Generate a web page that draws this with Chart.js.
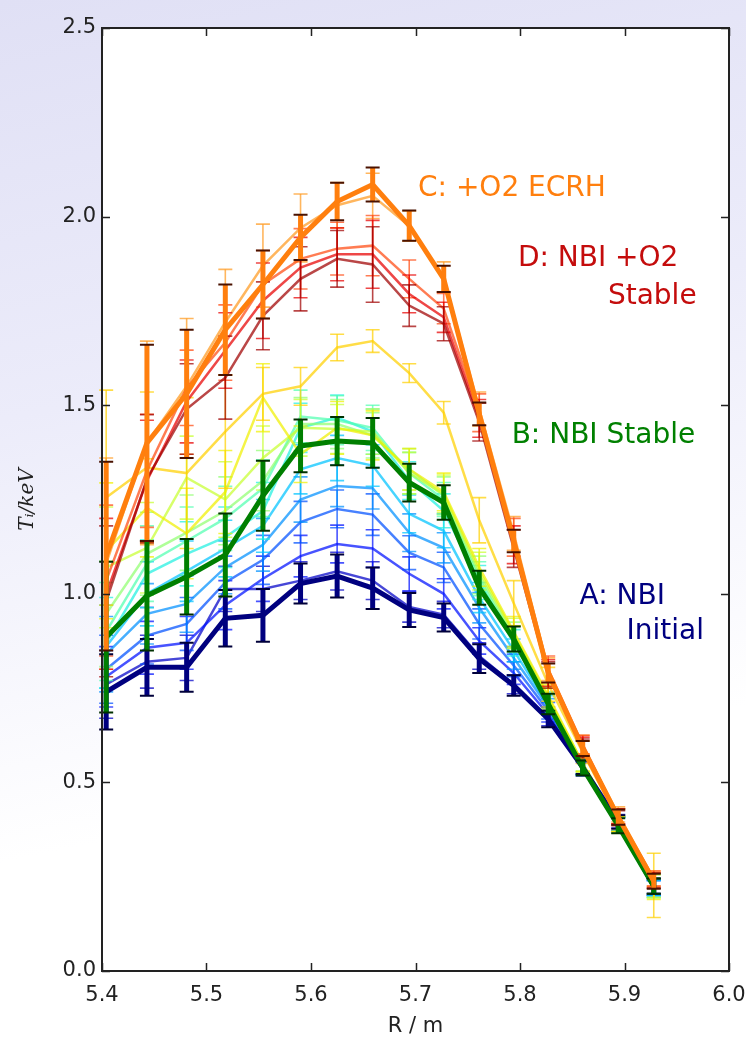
<!DOCTYPE html>
<html><head><meta charset="utf-8">
<script src="https://cdn.jsdelivr.net/npm/chart.js@4.4.0/dist/chart.umd.min.js"></script>
<style>
html,body{margin:0;padding:0;}
body{width:746px;height:1041px;overflow:hidden;background:linear-gradient(168deg,#e0e0f5 0%,#ececfa 35%,#ffffff 72%);}
canvas{display:block;}
</style></head><body>
<canvas id="c" width="746" height="1041"></canvas>
<script>
// ---- data ----
const R = [5.404, 5.443, 5.481, 5.518, 5.554, 5.590, 5.625, 5.659, 5.694, 5.727, 5.761, 5.794, 5.827, 5.860, 5.894, 5.928];
const xTicks = [5.4, 5.5, 5.6, 5.7, 5.8, 5.9, 6.0];
const yTicks = [0.0, 0.5, 1.0, 1.5, 2.0, 2.5];

// thick profiles
const tiA = [0.74, 0.805, 0.805, 0.935, 0.943, 1.027, 1.047, 1.015, 0.957, 0.937, 0.828, 0.757, 0.668, 0.540, 0.395, 0.225];
const errA = [0.10, 0.075, 0.065, 0.075, 0.07, 0.053, 0.057, 0.055, 0.045, 0.037, 0.038, 0.027, 0.022, 0.018, 0.018, 0.02];
const tiB = [0.885, 0.995, 1.045, 1.103, 1.260, 1.392, 1.405, 1.400, 1.295, 1.242, 1.016, 0.880, 0.708, 0.538, 0.385, 0.225];
const errB = [0.20, 0.145, 0.10, 0.11, 0.093, 0.07, 0.064, 0.066, 0.05, 0.046, 0.045, 0.033, 0.027, 0.02, 0.02, 0.02];
const tiC = [1.10, 1.40, 1.53, 1.70, 1.82, 1.945, 2.04, 2.085, 1.976, 1.835, 1.477, 1.14, 0.79, 0.59, 0.408, 0.238];
const errC = [0.25, 0.26, 0.17, 0.12, 0.09, 0.06, 0.05, 0.045, 0.04, 0.035, 0.03, 0.03, 0.025, 0.02, 0.02, 0.02];

// thin profiles (cold -> hot)
const ti1 = [0.76, 0.82, 0.83, 1.013, 1.013, 1.035, 1.06, 1.035, 0.965, 0.945, 0.835, 0.76, 0.67, 0.54, 0.397, 0.225];
const err1 = [0.09, 0.07, 0.06, 0.06, 0.06, 0.05, 0.05, 0.05, 0.04, 0.035, 0.035, 0.025, 0.02, 0.018, 0.018, 0.02];
const ti2 = [0.78, 0.857, 0.87, 0.97, 1.04, 1.10, 1.132, 1.12, 1.053, 1.0, 0.875, 0.79, 0.68, 0.535, 0.39, 0.22];
const err2 = [0.08, 0.07, 0.07, 0.065, 0.06, 0.055, 0.05, 0.05, 0.045, 0.04, 0.035, 0.03, 0.02, 0.018, 0.018, 0.02];
const ti3 = [0.80, 0.889, 0.92, 1.03, 1.09, 1.19, 1.225, 1.21, 1.109, 1.07, 0.92, 0.81, 0.69, 0.54, 0.39, 0.22];
const err3 = [0.09, 0.075, 0.07, 0.07, 0.065, 0.055, 0.05, 0.055, 0.045, 0.04, 0.04, 0.03, 0.022, 0.018, 0.018, 0.02];
const ti4 = [0.84, 0.947, 0.973, 1.07, 1.13, 1.25, 1.286, 1.28, 1.162, 1.122, 0.963, 0.83, 0.70, 0.54, 0.39, 0.22];
const err4 = [0.10, 0.08, 0.075, 0.07, 0.07, 0.06, 0.055, 0.055, 0.05, 0.04, 0.04, 0.03, 0.022, 0.02, 0.018, 0.02];
const ti5 = [0.86, 1.0, 1.06, 1.12, 1.18, 1.33, 1.36, 1.34, 1.212, 1.167, 0.99, 0.85, 0.705, 0.54, 0.39, 0.22];
const err5 = [0.11, 0.085, 0.08, 0.075, 0.07, 0.065, 0.06, 0.055, 0.05, 0.045, 0.04, 0.03, 0.025, 0.02, 0.02, 0.02];
const ti6 = [0.87, 1.053, 1.106, 1.15, 1.22, 1.44, 1.467, 1.43, 1.30, 1.22, 1.03, 0.87, 0.71, 0.54, 0.385, 0.22];
const err6 = [0.12, 0.09, 0.085, 0.08, 0.075, 0.065, 0.06, 0.06, 0.05, 0.045, 0.045, 0.035, 0.025, 0.02, 0.02, 0.025];
const ti7 = [0.90, 1.08, 1.14, 1.20, 1.28, 1.47, 1.46, 1.44, 1.32, 1.25, 1.04, 0.88, 0.715, 0.545, 0.39, 0.22];
const err7 = [0.13, 0.10, 0.09, 0.085, 0.075, 0.07, 0.065, 0.06, 0.055, 0.045, 0.045, 0.035, 0.025, 0.02, 0.02, 0.025];
const ti8 = [0.947, 1.106, 1.162, 1.22, 1.30, 1.45, 1.45, 1.42, 1.33, 1.26, 1.05, 0.89, 0.72, 0.55, 0.39, 0.225];
const err8 = [0.14, 0.11, 0.10, 0.09, 0.08, 0.07, 0.065, 0.06, 0.055, 0.05, 0.05, 0.035, 0.03, 0.02, 0.02, 0.03];
const ti9 = [1.07, 1.122, 1.308, 1.25, 1.36, 1.44, 1.437, 1.43, 1.32, 1.265, 1.06, 0.895, 0.725, 0.55, 0.39, 0.225];
const err9 = [0.16, 0.12, 0.11, 0.10, 0.085, 0.075, 0.065, 0.06, 0.055, 0.05, 0.05, 0.04, 0.03, 0.02, 0.02, 0.03];
const ti10 = [1.114, 1.228, 1.16, 1.27, 1.52, 1.37, 1.44, 1.42, 1.33, 1.27, 1.07, 0.90, 0.73, 0.55, 0.39, 0.225];
const err10 = [0.18, 0.13, 0.12, 0.11, 0.09, 0.075, 0.07, 0.065, 0.055, 0.05, 0.05, 0.04, 0.03, 0.022, 0.02, 0.035];
const ti11 = [1.255, 1.335, 1.32, 1.43, 1.53, 1.55, 1.653, 1.67, 1.585, 1.48, 1.195, 0.975, 0.76, 0.58, 0.40, 0.227];
const err11 = [0.285, 0.20, 0.20, 0.15, 0.07, 0.05, 0.035, 0.03, 0.025, 0.03, 0.06, 0.06, 0.045, 0.03, 0.03, 0.085];
const ti12 = [1.08, 1.40, 1.55, 1.72, 1.87, 1.97, 2.03, 2.055, 1.975, 1.84, 1.49, 1.16, 0.80, 0.60, 0.415, 0.245];
const err12 = [0.28, 0.27, 0.18, 0.14, 0.11, 0.09, 0.06, 0.06, 0.04, 0.04, 0.045, 0.045, 0.03, 0.025, 0.02, 0.02];
const ti13 = [1.035, 1.326, 1.546, 1.666, 1.82, 1.888, 1.915, 1.923, 1.835, 1.756, 1.48, 1.15, 0.80, 0.60, 0.41, 0.245];
const err13 = [0.20, 0.15, 0.10, 0.10, 0.09, 0.08, 0.07, 0.08, 0.05, 0.04, 0.05, 0.05, 0.035, 0.025, 0.02, 0.02];
const ti14 = [1.0, 1.30, 1.51, 1.645, 1.777, 1.865, 1.90, 1.90, 1.795, 1.733, 1.465, 1.13, 0.79, 0.595, 0.41, 0.24];
const err14 = [0.20, 0.16, 0.11, 0.10, 0.10, 0.08, 0.07, 0.09, 0.05, 0.04, 0.05, 0.05, 0.035, 0.025, 0.02, 0.02];
const ti15 = [0.98, 1.305, 1.49, 1.573, 1.737, 1.835, 1.888, 1.873, 1.764, 1.716, 1.455, 1.12, 0.785, 0.59, 0.405, 0.24];
const err15 = [0.20, 0.17, 0.12, 0.11, 0.09, 0.085, 0.075, 0.10, 0.055, 0.045, 0.05, 0.05, 0.035, 0.025, 0.02, 0.02];

const labelLines = ["C: +O2 ECRH", "D: NBI +O2", "Stable", "B: NBI Stable", "A: NBI", "Initial"];

// ---- build datasets ----
function rgba(hex, a){const n=parseInt(hex.slice(1),16);return `rgba(${n>>16&255},${n>>8&255},${n&255},${a})`;}
const thin = [
  [ti1, err1, '#0000c8'], [ti2, err2, '#0010ff'], [ti3, err3, '#0050ff'], [ti4, err4, '#0090ff'],
  [ti5, err5, '#00c4ff'], [ti6, err6, '#20f0e0'], [ti7, err7, '#50ffb0'], [ti8, err8, '#90ff70'],
  [ti9, err9, '#c8ff30'], [ti10, err10, '#f0f000'], [ti11, err11, '#ffd000'], [ti12, err12, '#ff9a20'],
  [ti13, err13, '#ff4a10'], [ti14, err14, '#e80000'], [ti15, err15, '#a00000']
];
const thick = [
  [tiA, errA, '#00007f', '#00003a'], [tiB, errB, '#007f00', '#003000'], [tiC, errC, '#ff7f0e', '#4a1200']
];
const datasets = [];
thin.forEach((s, k) => {
  datasets.push({
    data: R.map((x, i) => ({x, y: s[0][i]})), err: s[1],
    borderColor: rgba(s[2], 0.72), capColor: rgba(s[2], 0.72),
    borderWidth: 2.5, barWidth: 1.6, capWidth: 1.6, capHalf: 7,
    pointRadius: 0, tension: 0, order: 100 - k
  });
});
thick.forEach((s, k) => {
  datasets.push({
    data: R.map((x, i) => ({x, y: s[0][i]})), err: s[1],
    borderColor: s[2], capColor: s[3],
    borderWidth: 5, barWidth: 5, capWidth: 2, capHalf: 7,
    pointRadius: 0, tension: 0, order: 10 - k
  });
});

const errorBars = {
  id: 'errorBars',
  afterDatasetDraw(chart, args) {
    const ds = chart.data.datasets[args.index];
    if (!ds.err) return;
    const xs = chart.scales.x, ys = chart.scales.y, ctx = chart.ctx;
    ctx.save();
    ctx.lineCap = 'butt';
    ds.data.forEach((p, i) => {
      const e = ds.err[i];
      const px = xs.getPixelForValue(p.x);
      const yt = ys.getPixelForValue(p.y + e), yb = ys.getPixelForValue(p.y - e);
      ctx.strokeStyle = ds.borderColor; ctx.lineWidth = ds.barWidth;
      ctx.beginPath(); ctx.moveTo(px, yt); ctx.lineTo(px, yb); ctx.stroke();
      ctx.strokeStyle = ds.capColor; ctx.lineWidth = ds.capWidth;
      ctx.beginPath();
      ctx.moveTo(px - ds.capHalf, yt); ctx.lineTo(px + ds.capHalf, yt);
      ctx.moveTo(px - ds.capHalf, yb); ctx.lineTo(px + ds.capHalf, yb);
      ctx.stroke();
    });
    ctx.restore();
  }
};

const frame = {
  id: 'frame',
  beforeDraw(chart) {
    const {ctx, chartArea: a} = chart;
    ctx.save(); ctx.fillStyle = '#ffffff';
    ctx.fillRect(a.left, a.top, a.right - a.left, a.bottom - a.top);
    ctx.restore();
  },
  afterDraw(chart) {
    const {ctx, chartArea: a} = chart;
    const xs = chart.scales.x, ys = chart.scales.y;
    ctx.save();
    ctx.strokeStyle = '#222'; ctx.lineWidth = 1.5;
    ctx.beginPath();
    xTicks.forEach(v => {
      const px = Math.round(xs.getPixelForValue(v)) + 0.5;
      ctx.moveTo(px, a.bottom); ctx.lineTo(px, a.bottom - 8);
      ctx.moveTo(px, a.top); ctx.lineTo(px, a.top + 8);
    });
    yTicks.forEach(v => {
      const py = Math.round(ys.getPixelForValue(v)) + 0.5;
      ctx.moveTo(a.left, py); ctx.lineTo(a.left + 8, py);
      ctx.moveTo(a.right, py); ctx.lineTo(a.right - 8, py);
    });
    ctx.stroke();
    ctx.lineWidth = 2;
    ctx.strokeRect(a.left, a.top, a.right - a.left, a.bottom - a.top);
    // annotations
    ctx.font = '28px "DejaVu Sans"';
    ctx.textBaseline = 'middle';
    const put = (txt, x, y, col, align) => {
      ctx.fillStyle = col; ctx.textAlign = align;
      ctx.fillText(txt, xs.getPixelForValue(x), ys.getPixelForValue(y));
    };
    put(labelLines[0], 5.7024, 2.074, '#ff7f0e', 'left');
    put(labelLines[1], 5.798, 1.889, '#c40c0c', 'left');
    put(labelLines[2], 5.969, 1.788, '#c40c0c', 'right');
    put(labelLines[3], 5.792, 1.419, '#008000', 'left');
    put(labelLines[4], 5.857, 0.992, '#000080', 'left');
    put(labelLines[5], 5.976, 0.899, '#000080', 'right');
    ctx.restore();
  }
};

new Chart(document.getElementById('c'), {
  type: 'line',
  data: { datasets },
  options: {
    responsive: false, animation: false, devicePixelRatio: 1,
    layout: { padding: { top: 28, right: 17, left: 0, bottom: 0 } },
    plugins: { legend: { display: false }, tooltip: { enabled: false } },
    scales: {
      x: {
        type: 'linear', min: 5.4, max: 6.0,
        afterBuildTicks: s => { s.ticks = xTicks.map(v => ({value: v})); },
        afterFit: s => { s.height = 70; s.paddingLeft = 0; s.paddingRight = 0; },
        grid: { display: false, drawTicks: false },
        border: { display: false },
        ticks: { color: '#222', font: { family: 'DejaVu Sans', size: 21 }, padding: 12,
                 maxRotation: 0, autoSkip: false, callback: v => Number(v).toFixed(1) },
        title: { display: true, text: 'R / m', color: '#222',
                 font: { family: 'DejaVu Sans', size: 21 }, padding: { top: 0, bottom: 2 } }
      },
      y: {
        type: 'linear', min: 0, max: 2.5,
        afterBuildTicks: s => { s.ticks = yTicks.map(v => ({value: v})); },
        afterFit: s => { s.width = 102; s.paddingTop = 0; s.paddingBottom = 0; },
        grid: { display: false, drawTicks: false },
        border: { display: false },
        ticks: { color: '#222', font: { family: 'DejaVu Sans', size: 21 }, padding: 6,
                 autoSkip: false, callback: v => Number(v).toFixed(1) },
        title: { display: true, text: 'Tᵢ/keV', color: '#222',
                 font: { family: 'DejaVu Serif', size: 20, style: 'italic' }, padding: { top: 16, bottom: 0 } }
      }
    }
  },
  plugins: [errorBars, frame]
});
</script>
</body></html>
